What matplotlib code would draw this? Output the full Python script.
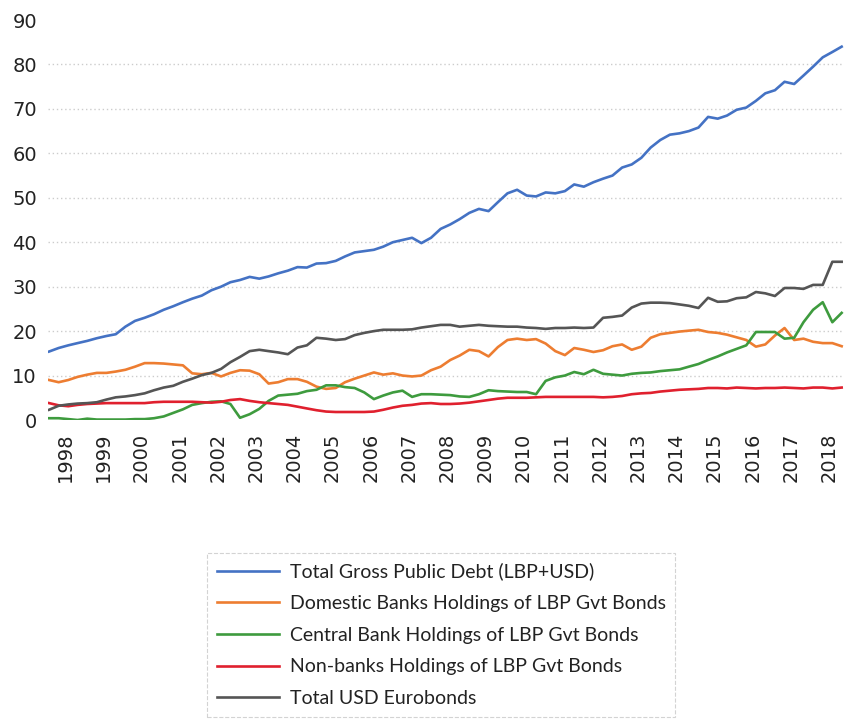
import numpy as np
import pandas as pd
import matplotlib
matplotlib.use("Agg")
import matplotlib.pyplot as plt

plt.rcParams["font.family"] = "DejaVu Sans"

# quarterly readings, Aug 1997 .. May 2018
dates = pd.date_range("1997-08-01", periods=84, freq="3MS")

total_debt = [
    15.4, 16.2, 16.8, 17.3, 17.8, 18.4, 18.9, 19.3, 21.0, 22.3,
    23.0, 23.8, 24.8, 25.6, 26.5, 27.3, 28.0, 29.2, 30.0, 31.0,
    31.5, 32.2, 31.8, 32.3, 33.0, 33.6, 34.4, 34.3, 35.2, 35.3,
    35.8, 36.8, 37.7, 38.0, 38.3, 39.0, 40.0, 40.5, 41.0, 39.8,
    41.0, 43.0, 44.0, 45.2, 46.6, 47.5, 47.0, 49.0, 51.0, 51.8,
    50.5, 50.3, 51.2, 51.0, 51.5, 53.0, 52.5, 53.5, 54.3, 55.0,
    56.8, 57.5, 59.0, 61.3, 63.0, 64.2, 64.5, 65.0, 65.8, 68.2,
    67.8, 68.5, 69.8, 70.3, 71.8, 73.5, 74.2, 76.1, 75.6, 77.5,
    79.5, 81.6, 82.8, 84.0,
]
domestic_banks = [
    9.0, 8.5, 9.0, 9.7, 10.2, 10.6, 10.6, 10.9, 11.3, 12.0,
    12.8, 12.8, 12.7, 12.5, 12.3, 10.5, 10.3, 10.6, 9.8, 10.6,
    11.2, 11.1, 10.3, 8.2, 8.5, 9.2, 9.2, 8.6, 7.5, 7.0,
    7.2, 8.5, 9.3, 10.0, 10.7, 10.2, 10.5, 10.0, 9.8, 10.0,
    11.2, 12.0, 13.5, 14.5, 15.8, 15.5, 14.3, 16.4, 18.0, 18.3,
    18.0, 18.2, 17.2, 15.5, 14.6, 16.2, 15.8, 15.3, 15.7, 16.6,
    17.0, 15.8, 16.5, 18.5, 19.3, 19.6, 19.9, 20.1, 20.3, 19.8,
    19.6, 19.2, 18.6, 18.0, 16.5, 17.0, 19.0, 20.7, 18.0, 18.3,
    17.6, 17.3, 17.3, 16.6,
]
central_bank = [
    0.4, 0.4, 0.2, 0.0, 0.3, 0.1, 0.1, 0.1, 0.1, 0.2,
    0.2, 0.4, 0.8, 1.6, 2.4, 3.4, 3.8, 4.1, 4.2, 3.6,
    0.5, 1.3, 2.5, 4.3, 5.5, 5.7, 5.9, 6.5, 6.8, 7.8,
    7.8, 7.4, 7.2, 6.2, 4.7, 5.5, 6.2, 6.6, 5.2, 5.8,
    5.8, 5.7, 5.6, 5.3, 5.2, 5.8, 6.7, 6.5, 6.4, 6.3,
    6.3, 5.8, 8.8, 9.6, 10.0, 10.8, 10.3, 11.3, 10.4, 10.2,
    10.0, 10.4, 10.6, 10.7, 11.0, 11.2, 11.4, 12.0, 12.6, 13.5,
    14.3, 15.2, 16.0, 16.8, 19.8, 19.8, 19.8, 18.3, 18.5, 22.0,
    24.8, 26.5, 22.0, 24.1,
]
non_banks = [
    3.8, 3.3, 3.1, 3.4, 3.6, 3.7, 3.8, 3.8, 3.8, 3.8,
    3.8, 4.0, 4.1, 4.1, 4.1, 4.1, 4.0, 3.9, 4.1, 4.5,
    4.7, 4.3, 4.0, 3.8, 3.6, 3.4, 3.0, 2.6, 2.2, 1.9,
    1.8, 1.8, 1.8, 1.8, 1.9, 2.3, 2.8, 3.2, 3.4, 3.7,
    3.8, 3.6, 3.6, 3.7, 3.9, 4.2, 4.5, 4.8, 5.0, 5.0,
    5.0, 5.1, 5.2, 5.2, 5.2, 5.2, 5.2, 5.2, 5.1, 5.2,
    5.4, 5.8, 6.0, 6.1, 6.4, 6.6, 6.8, 6.9, 7.0, 7.2,
    7.2, 7.1, 7.3, 7.2, 7.1, 7.2, 7.2, 7.3, 7.2, 7.1,
    7.3, 7.3, 7.1, 7.3,
]
eurobonds = [
    2.3, 3.2, 3.5, 3.7, 3.8, 4.0, 4.6, 5.1, 5.3, 5.6,
    6.0, 6.7, 7.3, 7.7, 8.6, 9.3, 10.1, 10.6, 11.5, 13.0,
    14.2, 15.5, 15.8, 15.5, 15.2, 14.8, 16.3, 16.8, 18.5, 18.3,
    18.0, 18.2, 19.1, 19.6, 20.0, 20.3, 20.3, 20.3, 20.4, 20.8,
    21.1, 21.4, 21.4, 21.0, 21.2, 21.4, 21.2, 21.1, 21.0, 21.0,
    20.8, 20.7, 20.5, 20.7, 20.7, 20.8, 20.7, 20.8, 23.0, 23.2,
    23.5, 25.3, 26.2, 26.4, 26.4, 26.3, 26.0, 25.7, 25.2, 27.5,
    26.6, 26.7, 27.4, 27.6, 28.8, 28.5, 27.9, 29.7, 29.7, 29.5,
    30.4, 30.4, 35.6, 35.6,
]

series = [
    ("Total Gross Public Debt (LBP+USD)", total_debt, "#4472C4"),
    ("Domestic Banks Holdings of LBP Gvt Bonds", domestic_banks, "#ED7D31"),
    ("Central Bank Holdings of LBP Gvt Bonds", central_bank, "#3E9B3E"),
    ("Non-banks Holdings of LBP Gvt Bonds", non_banks, "#E0202E"),
    ("Total USD Eurobonds", eurobonds, "#555555"),
]
year_labels = [str(y) for y in range(1998, 2019)]

fig = plt.figure(figsize=(8.45, 7.21), dpi=100)
ax = fig.add_axes([48 / 845, 1 - 420 / 721, 797 / 845, 400 / 721])

for label, values, color in series:
    ax.plot(dates, values, color=color, linewidth=1.9, label=label)

ax.set_ylim(0, 90)
ax.set_yticks(range(0, 100, 10))
ax.set_xlim(pd.Timestamp("1997-07-22"), pd.Timestamp("2018-06-02"))
ax.set_xticks([pd.Timestamp(f"{y}-01-01") for y in year_labels])
ax.set_xticklabels(year_labels, rotation=90)

ax.tick_params(axis="both", length=0, labelsize=14, colors="#222222")
ax.tick_params(axis="y", pad=8)
ax.tick_params(axis="x", pad=9)
for t in ax.get_xticklabels() + ax.get_yticklabels():
    t.set_fontfamily("DejaVu Sans")
for s in ax.spines.values():
    s.set_visible(False)

ax.grid(True, axis="y", color="#cccccc", linestyle=(0, (1, 2)), linewidth=1.0)
gl = ax.yaxis.get_gridlines()
gl[0].set_visible(False)
gl[-1].set_visible(False)
ax.set_axisbelow(True)

leg = fig.legend(
    loc="upper left", bbox_to_anchor=(207 / 845, 1 - 553 / 721),
    borderaxespad=0, prop={"family": "Lato", "size": 14},
    handlelength=3.2, handletextpad=0.55,
    labelspacing=0.75, borderpad=0.5, fancybox=False,
)
frame = leg.get_frame()
frame.set_edgecolor("#c8c8c8")
frame.set_linestyle("--")
frame.set_linewidth(0.8)
for t in leg.get_texts():
    t.set_color("#222222")

plt.savefig("out.png", dpi=100)
plt.close()
